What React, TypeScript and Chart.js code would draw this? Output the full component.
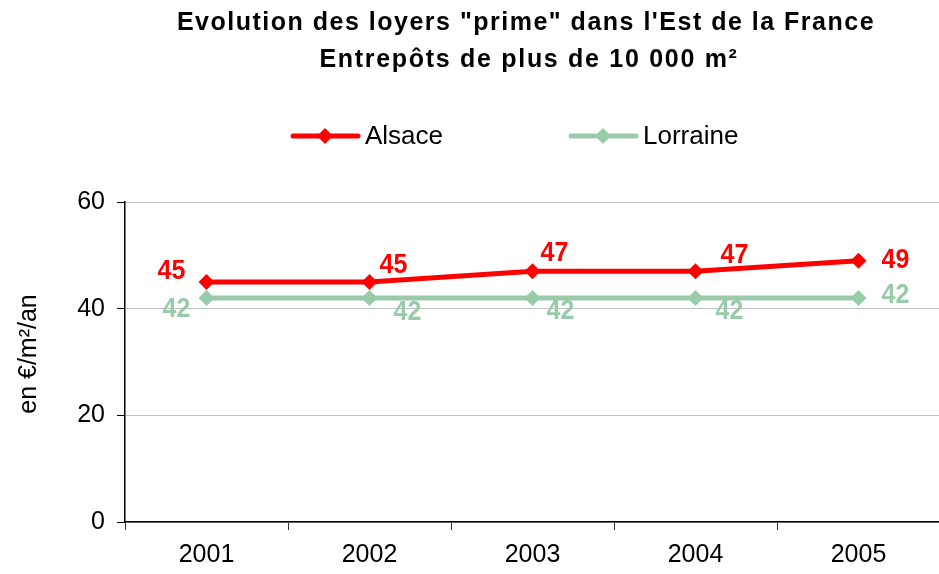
import React, { useEffect, useRef } from "react";
import { Chart, registerables } from "chart.js";
Chart.register(...registerables);

const categories = ["2001", "2002", "2003", "2004", "2005"];
const alsace = [45, 45, 47, 47, 49];
const lorraine = [42, 42, 42, 42, 42];
const seriesNames = ["Alsace", "Lorraine"];
const titleLines = ['Evolution des loyers "prime" dans l\'Est de la France', "Entrepôts de plus de 10 000 m²"];
const yAxisTitle = "en €/m²/an";
const yMin = 0;
const yMax = 60;
const yStep = 20;

const RED = "#ff0000";
const GREEN = "#99cbaa";
const FONT = "'Liberation Sans', Arial, sans-serif";

// label offsets (style only) relative to each point
const labelOffsets = [
  [[-35, -10], [24, -16], [22, -18], [39, -16], [37, 0]],
  [[-30, 12], [38, 15], [28, 14], [34, 14], [37, -2]],
];

const decorPlugin = {
  id: "decor",
  afterDraw(chart: any) {
    const ctx = chart.ctx;
    ctx.save();
    // title
    ctx.fillStyle = "#000";
    ctx.textAlign = "center";
    ctx.textBaseline = "middle";
    ctx.font = `bold 25px ${FONT}`;
    (ctx as any).letterSpacing = "1.5px";
    ctx.fillText(titleLines[0], 526, 23);
    (ctx as any).letterSpacing = "1.7px";
    ctx.fillText(titleLines[1], 529, 60);
    (ctx as any).letterSpacing = "0px";

    // y axis title
    ctx.save();
    ctx.translate(29, 354);
    ctx.rotate(-Math.PI / 2);
    ctx.font = `25px ${FONT}`;
    ctx.fillText(yAxisTitle, 0, 0);
    ctx.restore();

    // legend
    const legendY = 136;
    let x = 293;
    ctx.font = `26px ${FONT}`;
    ctx.textAlign = "left";
    chart.data.datasets.forEach((ds: any) => {
      ctx.strokeStyle = ds.borderColor;
      ctx.lineWidth = 5;
      ctx.lineCap = "round";
      ctx.beginPath();
      ctx.moveTo(x, legendY);
      ctx.lineTo(x + 65, legendY);
      ctx.stroke();
      ctx.fillStyle = ds.borderColor;
      ctx.beginPath();
      const cx = x + 32, r = 8;
      ctx.moveTo(cx, legendY - r);
      ctx.lineTo(cx + r, legendY);
      ctx.lineTo(cx, legendY + r);
      ctx.lineTo(cx - r, legendY);
      ctx.closePath();
      ctx.fill();
      ctx.fillStyle = "#000";
      ctx.fillText(ds.label, x + 72, legendY + 1);
      x = 571;
    });

    // data labels
    ctx.font = `bold 25px ${FONT}`;
    ctx.textAlign = "center";
    chart.data.datasets.forEach((ds: any, i: number) => {
      const meta = chart.getDatasetMeta(i);
      ctx.fillStyle = ds.borderColor;
      meta.data.forEach((pt: any, j: number) => {
        const off = labelOffsets[i][j];
        ctx.save();
        ctx.translate(pt.x + off[0], pt.y + off[1]);
        ctx.scale(1, 1.08);
        ctx.fillText(String(ds.data[j]), 0, 0);
        ctx.restore();
      });
    });
    ctx.restore();
  },
};

export default function App() {
  const ref = useRef<HTMLCanvasElement | null>(null);
  useEffect(() => {
    if (!ref.current) return;
    const mk = (label: string, data: number[], color: string) => ({
      label,
      data,
      borderColor: color,
      backgroundColor: color,
      borderWidth: 5,
      pointStyle: "rectRot",
      pointRadius: 8,
      pointBorderWidth: 0,
      pointBackgroundColor: color,
      tension: 0,
    });
    const chart = new Chart(ref.current, {
      type: "line",
      data: {
        labels: categories,
        datasets: [mk(seriesNames[0], alsace, RED), mk(seriesNames[1], lorraine, GREEN)],
      },
      options: {
        responsive: false,
        animation: false,
        layout: { padding: { top: 202, right: 1, left: 0, bottom: 0 } },
        plugins: { legend: { display: false }, title: { display: false }, tooltip: { enabled: false } },
        scales: {
          x: {
            offset: true,
            grid: { offset: true, drawOnChartArea: false, tickLength: 8, tickColor: "#333" },
            border: { color: "#000", width: 1.5 },
            ticks: { color: "#000", font: { family: FONT, size: 25 }, padding: 10, maxRotation: 0 },
            afterFit: (s: any) => { s.height = 52; },
          },
          y: {
            min: yMin,
            max: yMax,
            ticks: { stepSize: yStep, color: "#000", font: { family: FONT, size: 25 }, padding: 12 },
            grid: { color: "#c0c0c0", tickColor: "#000", tickLength: 8 },
            border: { color: "#000", width: 1.5 },
            afterFit: (s: any) => { s.width = 125; },
          },
        },
      } as any,
      plugins: [decorPlugin],
    });
    return () => chart.destroy();
  }, []);
  return (
    <div style={{ position: "fixed", left: 0, top: 0, width: 939, height: 574, overflow: "hidden", background: "#fff" }}>
      <canvas ref={ref} width={948} height={574} style={{ display: "block" }} />
    </div>
  );
}
